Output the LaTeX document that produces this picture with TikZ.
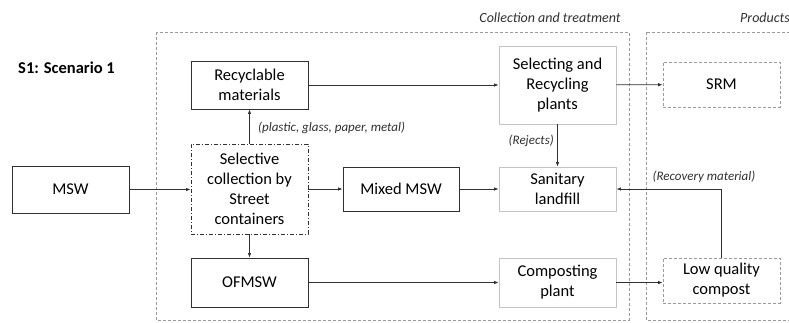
\documentclass[tikz,border=0pt]{standalone}
\usepackage{fontspec}
\setmainfont{Carlito}
\usetikzlibrary{arrows.meta}
\definecolor{darkline}{HTML}{303030}
\definecolor{lightbox}{HTML}{C4C4C4}
\definecolor{frame}{HTML}{9A9A9A}
\tikzset{
  box/.style={draw=darkline, line width=0.9pt, align=center, minimum width=117pt,
    font=\fontsize{16.5}{20}\selectfont, inner sep=2pt},
  plantbox/.style={box, draw=lightbox},
  productbox/.style={box, draw=frame, dash pattern=on 3pt off 2pt},
  selectbox/.style={box, dash pattern=on 4pt off 2pt on 1pt off 2pt},
  container/.style={draw=frame, line width=0.8pt, dash pattern=on 3pt off 2pt},
  flow/.style={draw=darkline, line width=0.7pt, -{Latex[length=4.5pt,width=3.5pt]}},
  note/.style={font=\fontsize{13}{15}\selectfont\itshape, text=darkline, inner sep=1pt},
  stagelabel/.style={note, font=\fontsize{14}{16}\selectfont\itshape},
}
\begin{document}
\begin{tikzpicture}[x=1pt,y=-1pt]
\useasboundingbox (0,0) rectangle (789,322);

% process stages
\draw[container] (156,32) rectangle (629,320);
\draw[container] (646,32) rectangle (810,320);
\node[stagelabel] (lblcol) at (550,18) {Collection and treatment};
\node[stagelabel, anchor=west] (lblprod) at (739,18) {Products};
\node[font=\fontsize{16.5}{18}\selectfont\bfseries, anchor=west, inner sep=0pt] (title) at (18,68) {S1: Scenario 1};

% boxes
\node[box, minimum height=47pt] (msw) at (70.5,189.5) {MSW};
\node[box, minimum height=48pt] (rec) at (249.5,85) {Recyclable\\materials};
\node[selectbox, minimum height=90pt] (sel) at (249.5,189) {Selective\\collection by\\Street\\containers};
\node[box, minimum height=49pt] (ofm) at (249.5,282.5) {OFMSW};
\node[box, minimum width=116pt, minimum height=44pt] (mix) at (401,189) {Mixed MSW};
\node[plantbox, minimum height=78pt] (srp) at (557.5,85) {Selecting and\\Recycling\\plants};
\node[plantbox, minimum height=44pt] (land) at (557.5,189) {Sanitary\\landfill};
\node[plantbox, minimum height=49pt] (comp) at (557.5,282.5) {Composting\\plant};
\node[productbox, minimum height=45pt] (srm) at (721.5,84.5) {SRM};
\node[productbox, minimum height=45pt] (low) at (721.5,280.5) {Low quality\\compost};

% flows
\draw[flow] (msw.east) -- (msw.east -| sel.west);
\draw[flow] (sel) -- (rec);
\draw[flow] (sel) -- (ofm);
\draw[flow] (sel) -- (mix);
\draw[flow] (mix) -- (land);
\draw[flow] (rec) -- (srp);
\draw[flow] (srp) -- (srm);
\draw[flow] (ofm) -- (comp);
\draw[flow] (comp.east) -- (comp.east -| low.west);
\draw[flow] (srp) -- (land);
\coordinate (bend) at (low.north |- land.east);
\draw[flow] (low.north) -- (bend) -- (land.east);

% flow labels
\node[note, anchor=west] (lplast) at (257,128) {(plastic, glass, paper, metal)};
\node[note, anchor=east] (lrej) at (555,141) {(Rejects)};
\node[note] (lrecov) at (704,177) {(Recovery material)};
\end{tikzpicture}
\end{document}
